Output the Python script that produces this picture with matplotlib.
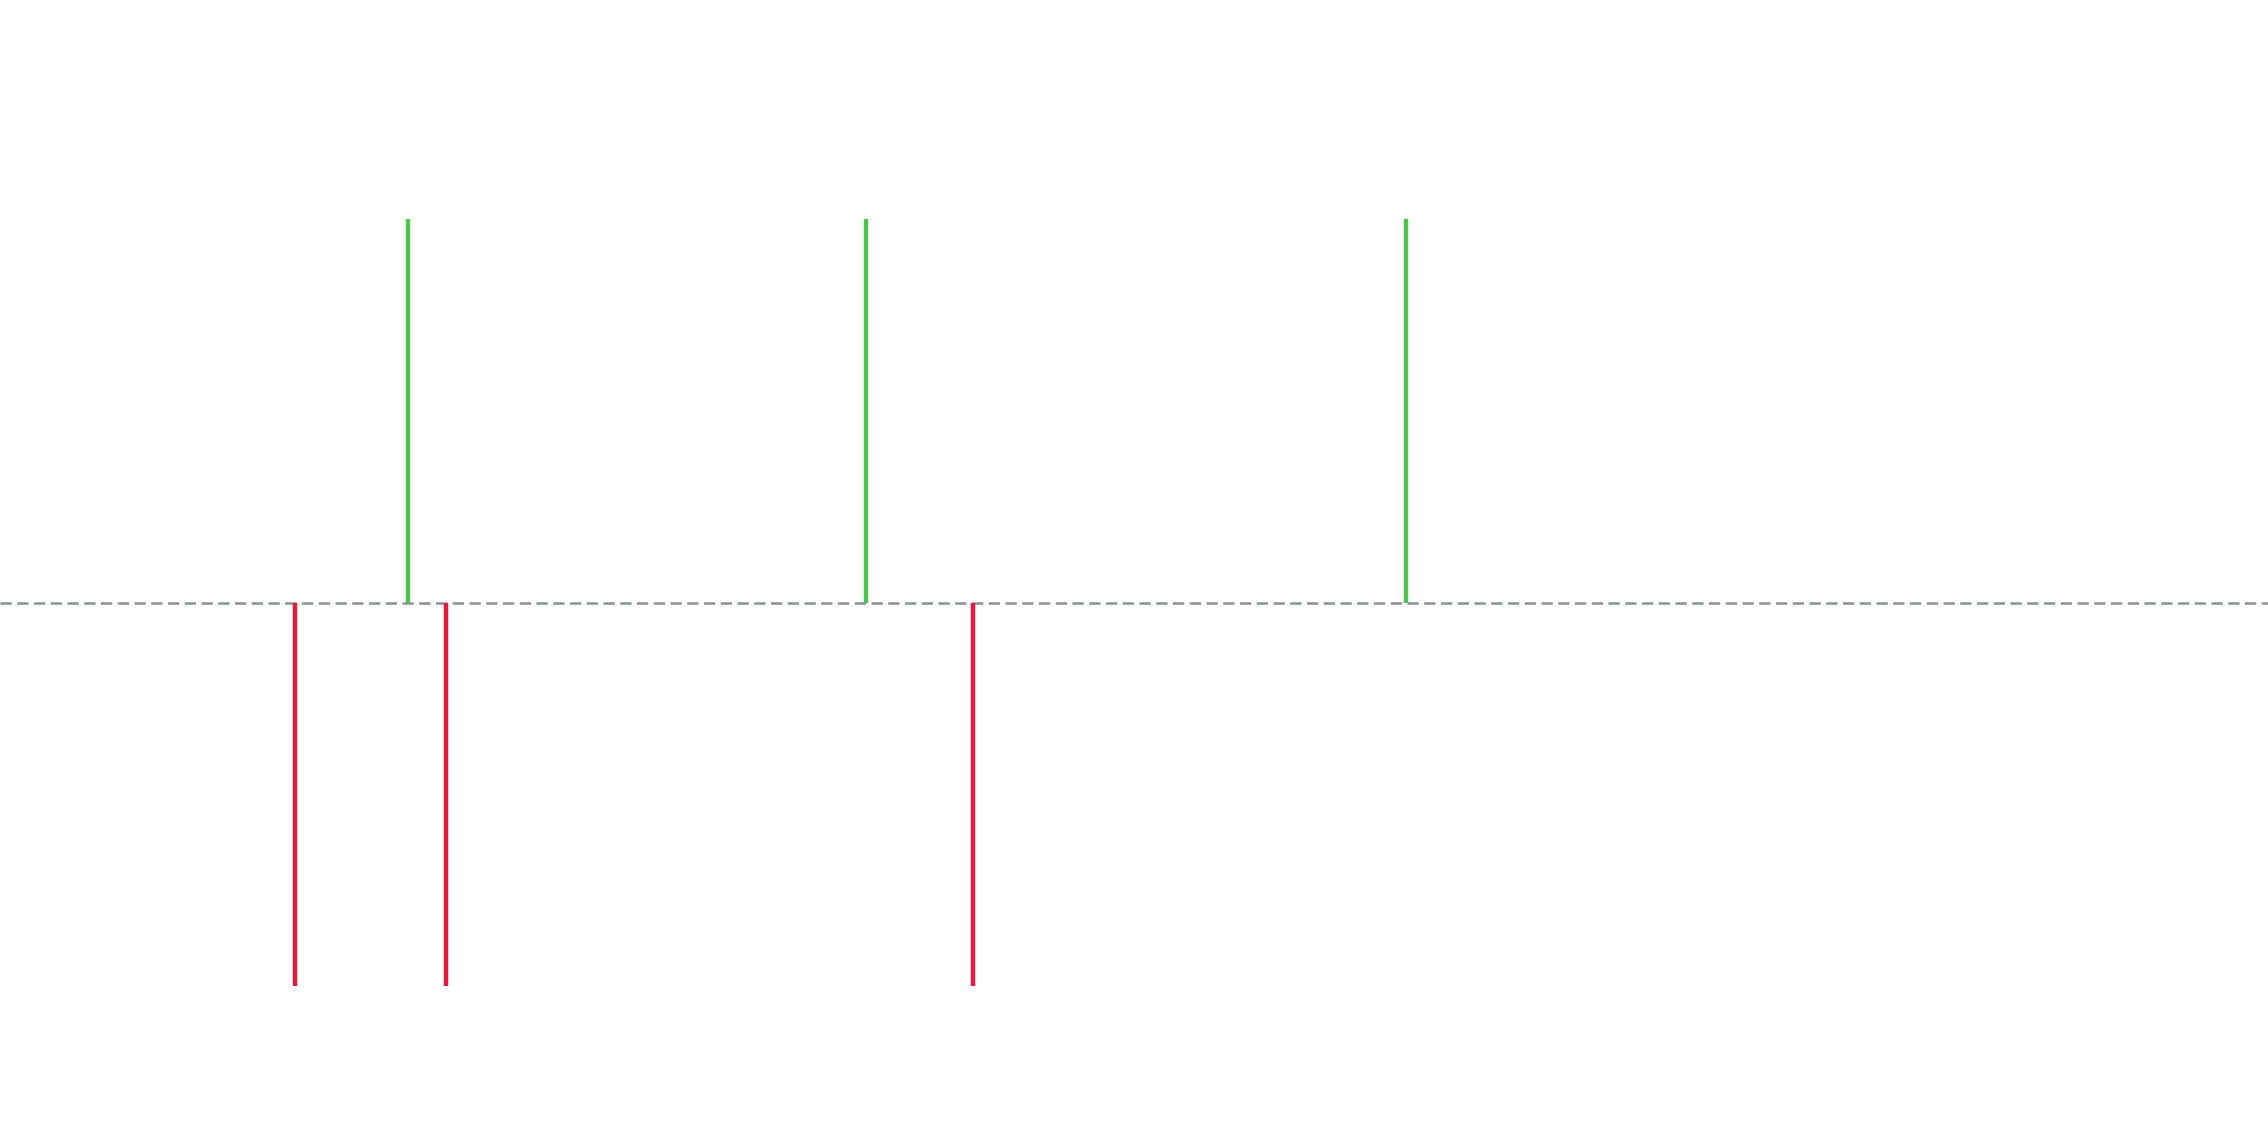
import matplotlib
matplotlib.use("Agg")
import matplotlib.pyplot as plt

# event positions (0-100 scale) and direction
up_x = [18.0, 38.2, 62.0]
up_val = [1, 1, 1]
down_x = [13.0, 19.65, 42.9]
down_val = [-1, -1, -1]

fig = plt.figure(figsize=(22.68, 11.48), dpi=100)
ax = fig.add_axes([0, 0, 1, 1])

ax.axhline(0, color='#8a9098', linewidth=1.8, linestyle=(0, (4.5, 2.2)), zorder=1)
ax.vlines(up_x, 0, up_val, color='#4fc24f', linewidth=3.2, zorder=2)
ax.vlines(down_x, 0, down_val, color='#e8193c', linewidth=3.2, zorder=2)

ax.set_xlim(0, 100)
ax.set_ylim(-1.422, 1.572)
ax.axis('off')

fig.savefig('out.png', dpi=100)
